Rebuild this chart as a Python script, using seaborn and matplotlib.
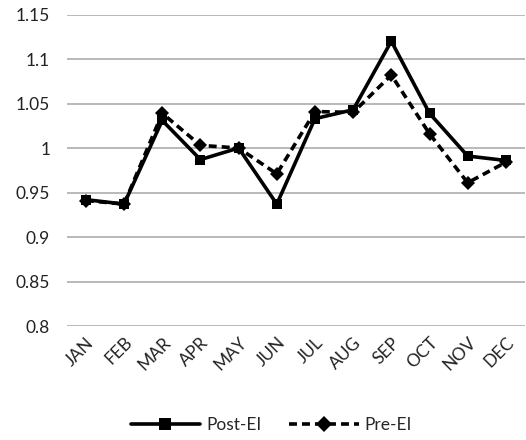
import matplotlib
matplotlib.use("Agg")
import matplotlib.pyplot as plt
import pandas as pd
import seaborn as sns

months = ["JAN", "FEB", "MAR", "APR", "MAY", "JUN",
          "JUL", "AUG", "SEP", "OCT", "NOV", "DEC"]
post_ei = [0.942, 0.937, 1.031, 0.987, 1.000, 0.937,
           1.033, 1.043, 1.120, 1.039, 0.991, 0.986]
pre_ei = [0.941, 0.937, 1.039, 1.003, 1.000, 0.971,
          1.041, 1.040, 1.082, 1.016, 0.961, 0.984]
yticks = [0.8, 0.85, 0.9, 0.95, 1, 1.05, 1.1, 1.15]
ytick_labels = ["0.8", "0.85", "0.9", "0.95", "1", "1.05", "1.1", "1.15"]

df = pd.DataFrame({
    "month": months * 2,
    "value": post_ei + pre_ei,
    "series": ["Post-EI"] * len(months) + ["Pre-EI"] * len(months),
})

sns.set_theme(style="white")
plt.rcParams["font.family"] = ["Lato", "DejaVu Sans"]

fig = plt.figure(figsize=(5.26, 4.4), dpi=100)
ax = fig.add_axes([0.127, 0.259, 0.871, 0.708])

sns.lineplot(
    data=df, x="month", y="value", hue="series", style="series",
    palette={"Post-EI": "black", "Pre-EI": "black"},
    markers={"Post-EI": "s", "Pre-EI": "D"},
    dashes={"Post-EI": "", "Pre-EI": (2.2, 1.4)},
    linewidth=2.6, markersize=7.5, markeredgewidth=0,
    sort=False, ax=ax, legend=True,
)

ax.set_xlim(-0.5, len(months) - 0.5)
ax.set_ylim(0.8, 1.15)
ax.set_yticks(yticks)
ax.set_yticklabels(ytick_labels)
ax.yaxis.grid(True, color="#a6a6a6", linewidth=1.1)
ax.set_axisbelow(True)
for s in ax.spines.values():
    s.set_visible(False)
ax.set_xlabel("")
ax.set_ylabel("")
ax.tick_params(axis="both", length=0, labelsize=12.5, colors="#222222")
ax.tick_params(axis="y", pad=12)
plt.setp(ax.get_xticklabels(), rotation=45, ha="right", rotation_mode="anchor")
ax.tick_params(axis="x", pad=6)

# move the legend below the plot, centred on the figure
handles, labels = ax.get_legend_handles_labels()
ax.get_legend().remove()
for h in handles:
    h.set_markersize(8)
fig.legend(handles, labels, loc="center", bbox_to_anchor=(0.516, 0.034),
           ncol=2, frameon=False, fontsize=12.5, handlelength=4.0,
           columnspacing=1.6, handletextpad=0.35)

fig.savefig("out.png", dpi=100)
